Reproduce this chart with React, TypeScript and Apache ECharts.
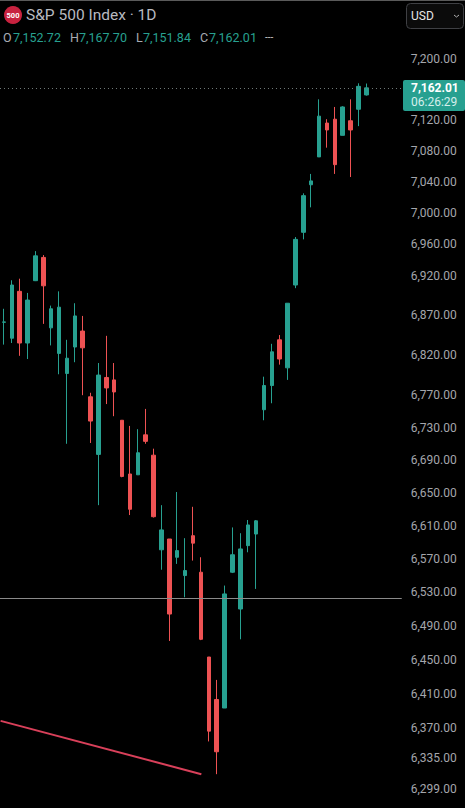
import React, { useEffect, useRef } from "react";
import * as echarts from "echarts";

const UP = "#27a090";
const DOWN = "#ee5253";

// [open, close, low, high]
const candles: number[][] = [
  [6861, 6861.5, 6833, 6878],
  [6841, 6908, 6835, 6914],
  [6900, 6835, 6819, 6916],
  [6835, 6889, 6815, 6898],
  [6913.5, 6945, 6913, 6951],
  [6943, 6907, 6859, 6946],
  [6854, 6878, 6832, 6882],
  [6822, 6880, 6796, 6900],
  [6797, 6816, 6710, 6839],
  [6830, 6869, 6811, 6885],
  [6850, 6829, 6770, 6869],
  [6768, 6738, 6711, 6773],
  [6697, 6795, 6635, 6810],
  [6792, 6779, 6759, 6844],
  [6789, 6774, 6744, 6810],
  [6739, 6670, 6669, 6739],
  [6673, 6630, 6623, 6732],
  [6672, 6699, 6672, 6728],
  [6721, 6713, 6710, 6753],
  [6696, 6621, 6620, 6704],
  [6581, 6605, 6557, 6635],
  [6594, 6504, 6472, 6594],
  [6572, 6580, 6564, 6651],
  [6550, 6556, 6524, 6595],
  [6598, 6589, 6568, 6633],
  [6554, 6474, 6473, 6572],
  [6453, 6366, 6354, 6453],
  [6403, 6342, 6316, 6426],
  [6393, 6528, 6393, 6538],
  [6554, 6575, 6553, 6608],
  [6510, 6582, 6474, 6601],
  [6586, 6611, 6578, 6617],
  [6600, 6616, 6534, 6617],
  [6752, 6782, 6739, 6793],
  [6782, 6824, 6760, 6834],
  [6839, 6815, 6808, 6845],
  [6804, 6885, 6789, 6885],
  [6908, 6966, 6904, 6969],
  [6975, 7022, 6966, 7025],
  [7036, 7041, 7007, 7050],
  [7072, 7125, 7072, 7147],
  [7116, 7107, 7084, 7121],
  [7121, 7062, 7050, 7137],
  [7100, 7137, 7100, 7138],
  [7119, 7107, 7046, 7147],
  [7134, 7164, 7112, 7168],
  [7152.72, 7162.01, 7151.84, 7167.7],
];

const EMPTY_SLOTS = 4;
const categories = Array.from({ length: candles.length + EMPTY_SLOTS }, (_, i) => String(i));
const priceTicks = [
  7200, 7120, 7080, 7040, 7000, 6960, 6920, 6870, 6820, 6770, 6730, 6690, 6650, 6610, 6570,
  6530, 6490, 6450, 6410, 6370, 6335, 6299,
];
const lastPrice = 7162.01;
const horizontalLevel = 6523;
const trendLine: number[][] = [
  [-0.42, 6378],
  [25.06, 6316],
];
const ohlc = [
  ["O", "7,152.72"],
  ["H", "7,167.70"],
  ["L", "7,151.84"],
  ["C", "7,162.01"],
];
const ohlcX = [3, 70, 136, 200];
const ohlcValueOffset = [10, 9, 7, 9];

const FONT = "Roboto";

const fmt = (v: number) =>
  v.toLocaleString("en-US", { minimumFractionDigits: 2, maximumFractionDigits: 2 });

export default function App() {
  const ref = useRef<HTMLDivElement>(null);
  useEffect(() => {
    document.body.style.margin = "0";
    document.body.style.background = "#000";
    const chart = echarts.init(ref.current!, null, { renderer: "svg" });

    const headerTexts: any[] = [];
    ohlc.forEach(([k, v], i) => {
      headerTexts.push({
        type: "text",
        x: ohlcX[i],
        y: 37,
        style: { text: k, fill: "#a8abb3", font: `12.5px ${FONT}`, textVerticalAlign: "middle" },
      });
      headerTexts.push({
        type: "text",
        x: ohlcX[i] + ohlcValueOffset[i],
        y: 37,
        style: { text: v, fill: UP, font: `12.5px ${FONT}`, textVerticalAlign: "middle" },
      });
    });

    chart.setOption({
      animation: false,
      backgroundColor: "#000",
      grid: { left: -0.65, top: 0, width: 402.4, height: 808, containLabel: false },
      xAxis: [
        {
          type: "category",
          data: categories,
          show: false,
          boundaryGap: true,
        },
        { type: "value", min: -0.5, max: categories.length - 0.5, show: false },
      ],
      yAxis: {
        type: "log",
        logBase: 10,
        min: 6277,
        max: 7278.2,
        position: "right",
        axisLine: { show: false },
        axisTick: { show: false },
        splitLine: { show: false },
        minorTick: { show: false },
        minorSplitLine: { show: false },
        axisLabel: {
          customValues: priceTicks,
          margin: 9,
          color: "#a4a6ac",
          fontFamily: FONT,
          fontSize: 12,
          formatter: (v: number) => fmt(Math.round(v)),
        },
      },
      series: [
        {
          type: "candlestick",
          xAxisIndex: 0,
          barWidth: 4,
          data: candles,
          itemStyle: { color: UP, color0: DOWN, borderColor: UP, borderColor0: DOWN, borderWidth: 1 },
          markLine: {
            silent: true,
            symbol: "none",
            label: { show: false },
            data: [
              { yAxis: lastPrice, lineStyle: { color: "#6f7877", type: [1, 3], width: 1 } },
              { yAxis: horizontalLevel, lineStyle: { color: "#8a8a8a", type: "solid", width: 1.2 } },
            ],
          },
        },
        {
          type: "line",
          xAxisIndex: 1,
          data: trendLine,
          showSymbol: false,
          lineStyle: { color: "#d9405a", width: 2 },
          silent: true,
        },
      ],
      graphic: [
        { type: "rect", shape: { x: 0, y: 0, width: 465, height: 1 }, style: { fill: "#5a5a5a" } },
        { type: "circle", shape: { cx: 13, cy: 15, r: 9 }, style: { fill: "#c8223f" } },
        {
          type: "text",
          x: 13,
          y: 15,
          style: {
            text: "500",
            fill: "#fff",
            font: `bold 7.5px ${FONT}`,
            textAlign: "center",
            textVerticalAlign: "middle",
          },
        },
        {
          type: "text",
          x: 26,
          y: 15,
          style: {
            text: "S&P 500 Index · 1D",
            fill: "#b8bac0",
            font: `15.5px ${FONT}`,
            textVerticalAlign: "middle",
          },
        },
        ...headerTexts,
        { type: "text", x: 265, y: 37, style: { text: "---", fill: "#c8c8c8", font: `10px ${FONT}`, textVerticalAlign: "middle" } },
        {
          type: "rect",
          shape: { x: 406.5, y: 3.5, width: 57, height: 25, r: 4 },
          style: { fill: "#0b0b0b", stroke: "#3f4044", lineWidth: 1 },
        },
        {
          type: "text",
          x: 411,
          y: 16,
          style: { text: "USD", fill: "#e6e6e6", font: `12px ${FONT}`, textVerticalAlign: "middle" },
        },
        {
          type: "polyline",
          shape: { points: [[454, 15], [456.5, 17], [459, 15]] },
          style: { stroke: "#b0b0b0", lineWidth: 1, fill: "none" },
        },
        {
          type: "rect",
          shape: { x: 403, y: 80, width: 62, height: 31, r: 2 },
          style: { fill: UP },
        },
        {
          type: "text",
          x: 411,
          y: 88,
          style: { text: fmt(lastPrice), fill: "#ffffff", font: `bold 12px ${FONT}`, textVerticalAlign: "middle" },
        },
        {
          type: "text",
          x: 411,
          y: 102,
          style: { text: "06:26:29", fill: "#d5efec", font: `12px ${FONT}`, textVerticalAlign: "middle" },
        },
      ],
    });
    return () => chart.dispose();
  }, []);
  return <div ref={ref} style={{ width: 465, height: 808, background: "#000" }} />;
}
